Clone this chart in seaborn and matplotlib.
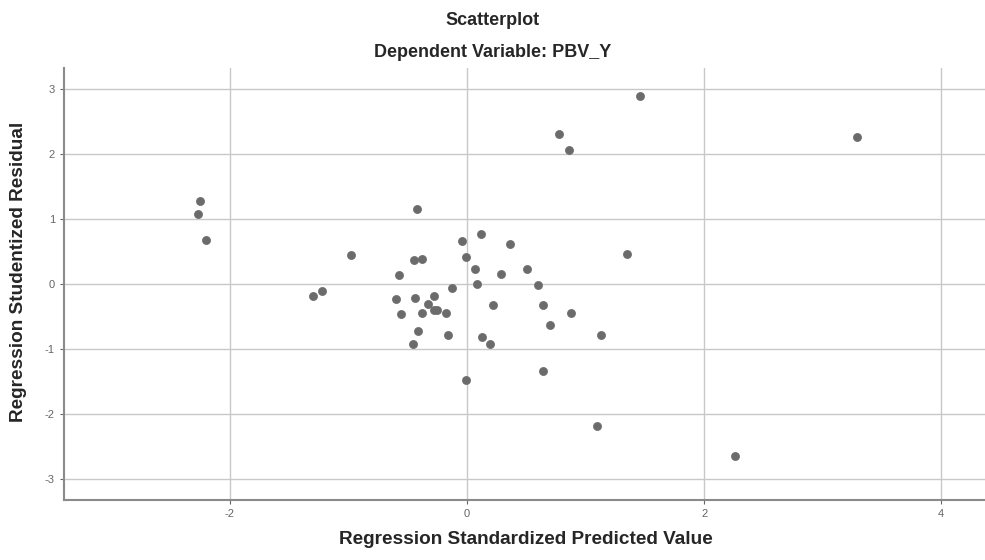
import numpy as np
import pandas as pd
import matplotlib
matplotlib.use("Agg")
import matplotlib.pyplot as plt
import seaborn as sns

# values
pred_std = [1.46, 0.78, 0.86, 3.29, -2.25, -2.27, -2.20, -0.42, -0.98, 1.35,
            -0.04, -0.45, -0.38, -0.01, 0.07, 0.08, -0.57, -0.13, -1.30, -1.22,
            -0.60, -0.44, -0.28, -0.33, -0.28, -0.25, -0.18, -0.56, -0.38, -0.41,
            -0.16, -0.46, 0.12, 0.36, 0.29, 0.51, 0.60, 0.22, 0.64, 0.88,
            0.70, 0.13, 0.19, 1.13, 0.64, -0.01, 1.10, 2.26]
resid_stud = [2.88, 2.31, 2.06, 2.26, 1.28, 1.08, 0.68, 1.15, 0.45, 0.46,
              0.66, 0.37, 0.38, 0.42, 0.23, 0.00, 0.14, -0.07, -0.18, -0.11,
              -0.23, -0.21, -0.19, -0.31, -0.40, -0.40, -0.44, -0.46, -0.45, -0.73,
              -0.79, -0.93, 0.77, 0.61, 0.16, 0.23, -0.02, -0.33, -0.32, -0.44,
              -0.63, -0.81, -0.92, -0.79, -1.34, -1.47, -2.18, -2.64]
x_ticks = [-2, 0, 2, 4]
y_ticks = [-3, -2, -1, 0, 1, 2, 3]

df = pd.DataFrame({'pred': pred_std, 'resid': resid_stud})

sns.set_style("whitegrid")
plt.rcParams['font.family'] = ['Liberation Sans', 'DejaVu Sans']
plt.rcParams['axes.unicode_minus'] = False

fig = plt.figure(figsize=(9.85, 5.6), dpi=100)
ax = fig.add_axes([0.065, 0.107, 0.935, 0.772])

sns.scatterplot(data=df, x='pred', y='resid', ax=ax, color='#6b6b6b',
                edgecolor='#6b6b6b', s=34, linewidth=0.5, zorder=3)

ax.set_xlim(-3.4, 4.37)
ax.set_ylim(-3.32, 3.32)
ax.set_xticks(x_ticks)
ax.set_yticks(y_ticks)
ax.tick_params(axis='both', labelsize=8, colors='#666666', length=3,
               left=True, bottom=True)
ax.grid(True, color='#c8c8c8', linewidth=1.0)
for side in ['top', 'right']:
    ax.spines[side].set_visible(False)
for side in ['left', 'bottom']:
    ax.spines[side].set_color('#8a8a8a')
    ax.spines[side].set_linewidth(1.5)

ax.set_xlabel('')
ax.set_ylabel('')
fig.text(0.534, 0.021, 'Regression Standardized Predicted Value', ha='center',
         va='bottom', fontsize=13.7, fontweight='bold')
fig.text(0.019, 0.514, 'Regression Studentized Residual', ha='center',
         va='center', rotation=90, fontsize=13.7, fontweight='bold')

fig.text(0.5, 0.964, 'Scatterplot', ha='center', va='center', fontsize=13,
         fontweight='bold')
fig.text(0.5, 0.906, 'Dependent Variable: PBV_Y', ha='center', va='center',
         fontsize=13, fontweight='bold')

fig.savefig('out.png', dpi=100)
